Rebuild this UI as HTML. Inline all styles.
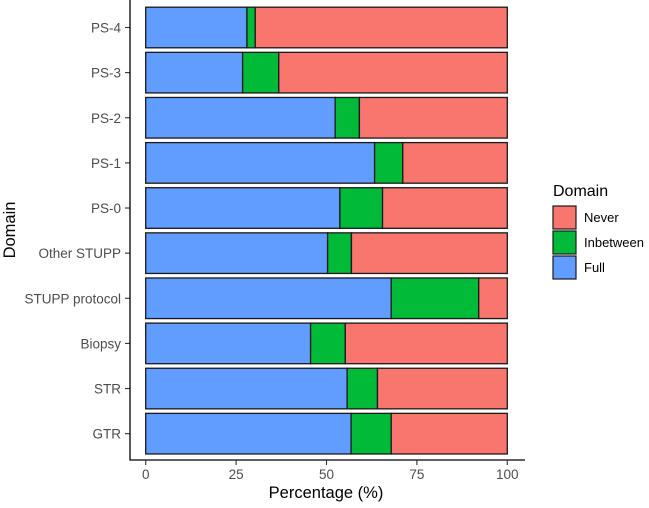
<!DOCTYPE html>
<html><head><meta charset="utf-8"><style>
body{margin:0;background:#fff;font-family:"Liberation Sans",Arial,sans-serif}
svg text{font-family:"Liberation Sans",Arial,sans-serif}
</style></head><body>
<svg id="chart" width="649" height="503" xmlns="http://www.w3.org/2000/svg">
<g id="bars"></g>
<g id="axes"></g>
<g id="legend">
<text x="553" y="196" font-size="16" fill="#000">Domain</text>
<rect x="553" y="206" width="23" height="23" fill="#F8766D" stroke="#1a1a1a" stroke-width="1.2"/>
<text x="584" y="222" font-size="13" fill="#000">Never</text>
<rect x="553" y="231" width="23" height="23" fill="#00BA38" stroke="#1a1a1a" stroke-width="1.2"/>
<text x="584" y="247" font-size="13" fill="#000">Inbetween</text>
<rect x="553" y="256" width="23" height="23" fill="#619CFF" stroke="#1a1a1a" stroke-width="1.2"/>
<text x="584" y="272" font-size="13" fill="#000">Full</text>
</g>
</svg>
<script>
const categories = ["PS-4","PS-3","PS-2","PS-1","PS-0","Other STUPP","STUPP protocol","Biopsy","STR","GTR"];
const fullValues = [28.0,26.8,52.4,63.3,53.7,50.3,67.9,45.6,55.7,56.8];
const inbetweenValues = [2.3,10.0,6.7,7.8,11.8,6.6,24.2,9.6,8.4,11.1];
const xTicks = [0,25,50,75,100];
const NS="http://www.w3.org/2000/svg";
const x0=145.7, x1=507.3;
const xScale = v => x0 + (x1-x0)*v/100;
const topC=27.5, pitch=45.13, bh=40.6;
const yScale = i => topC + i*pitch;
const bars=document.getElementById('bars'), axes=document.getElementById('axes');
function mk(tag, attrs, parent){const e=document.createElementNS(NS,tag);for(const k in attrs)e.setAttribute(k,attrs[k]);parent.appendChild(e);return e;}
categories.forEach((c,i)=>{
  const y=yScale(i)-bh/2;
  const f=fullValues[i], b=inbetweenValues[i];
  const segs=[[0,f,'#619CFF','full'],[f,f+b,'#00BA38','inbetween'],[f+b,100,'#F8766D','never']];
  segs.forEach(s=>{
    const r=mk('rect',{x:xScale(s[0]),y:y,width:xScale(s[1])-xScale(s[0]),height:bh,fill:s[2],stroke:'#1a1a1a','stroke-width':1.3},bars);
    
    
  });
  const t=mk('text',{x:121,y:yScale(i)+5,'text-anchor':'end','font-size':13.5,fill:'#4d4d4d'},axes);
  t.textContent=c;
  
  
  const tk=mk('line',{x1:125,x2:130,y1:yScale(i),y2:yScale(i),stroke:'#333','stroke-width':1.1},axes);
  
  
});
const yl=mk('line',{x1:130,x2:130,y1:0,y2:460.5,stroke:'#000','stroke-width':1.3},axes);


const xl=mk('line',{x1:129.5,x2:525,y1:460,y2:460,stroke:'#000','stroke-width':1.3},axes);


xTicks.forEach(v=>{
  const tk=mk('line',{x1:xScale(v),x2:xScale(v),y1:460,y2:465,stroke:'#333','stroke-width':1.1},axes);
  
  
  const t=mk('text',{x:xScale(v),y:479,'text-anchor':'middle','font-size':13.5,fill:'#4d4d4d'},axes);
  t.textContent=v;
  
  
});
const xt=mk('text',{x:326,y:498,'text-anchor':'middle','font-size':16.5,fill:'#000'},axes);
xt.textContent='Percentage (%)';


const yt=mk('text',{x:0,y:0,'text-anchor':'middle','font-size':16.5,fill:'#000',transform:'translate(15,230) rotate(-90)'},axes);
yt.textContent='Domain';


</script>
</body></html>
